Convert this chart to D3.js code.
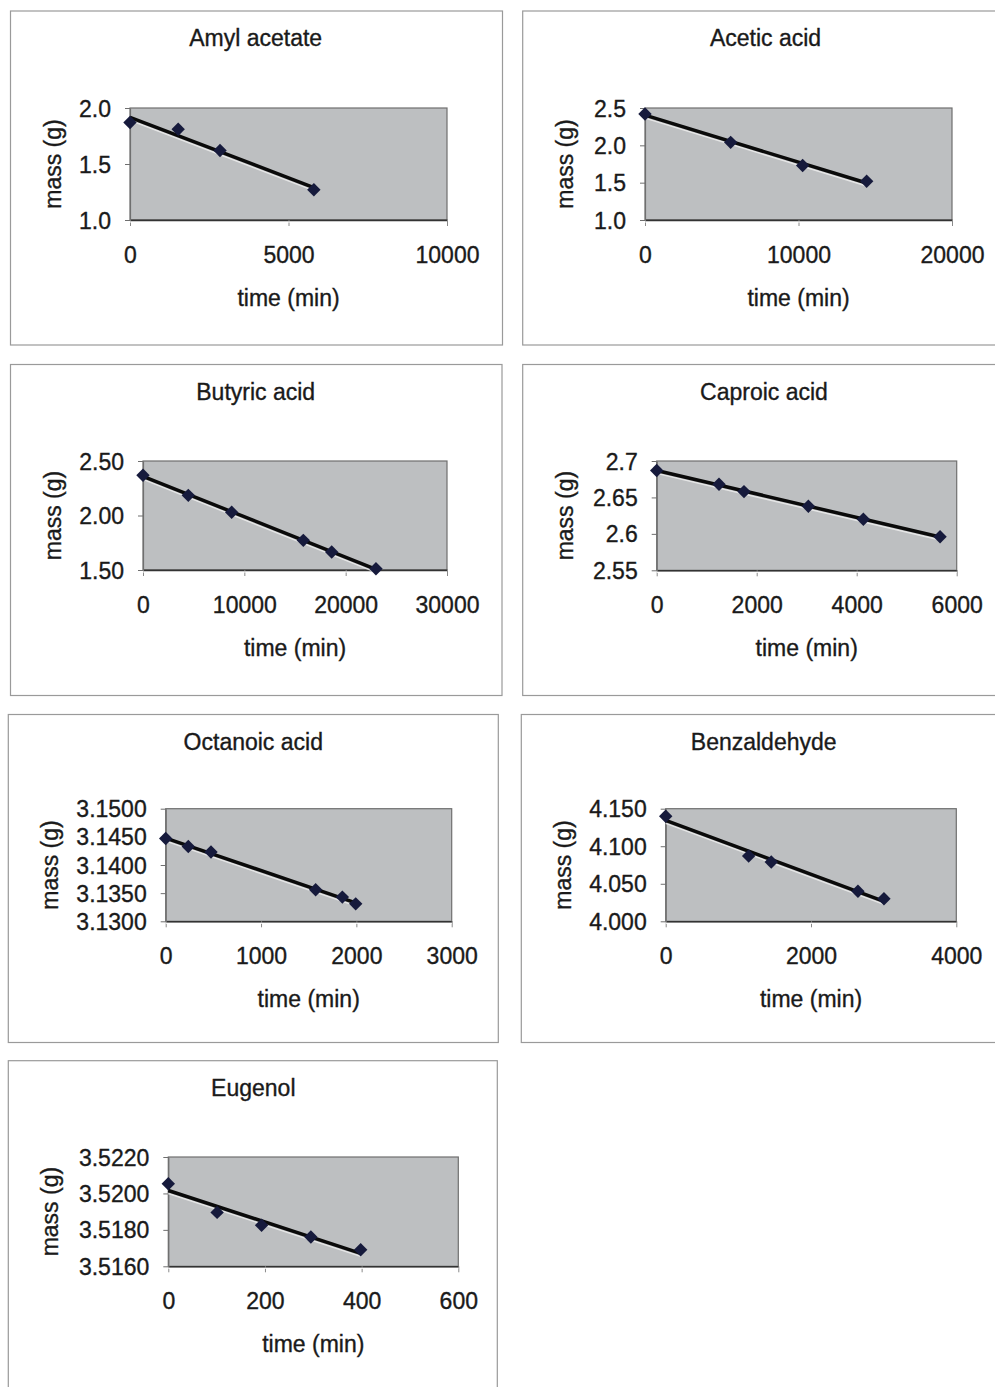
<!DOCTYPE html>
<html>
<head>
<meta charset="utf-8">
<script src="https://cdn.jsdelivr.net/npm/d3@7"></script>
<style>
  html, body { margin: 0; padding: 0; background: #ffffff; }
  svg { display: block; }
  text { font-family: "Liberation Sans", Arial, sans-serif; fill: #1a1a1a; stroke: #1a1a1a; stroke-width: 0.35px; }
</style>
</head>
<body>
<svg id="chart" width="995" height="1387"></svg>
<script>
// ---------------- DATA ----------------
const titles = ["Amyl acetate", "Acetic acid", "Butyric acid", "Caproic acid", "Octanoic acid", "Benzaldehyde", "Eugenol"];
const xAxisTitle = "time (min)";
const yAxisTitle = "mass (g)";

const amylTime = [0, 1520, 2840, 5800];
const amylMass = [1.87, 1.81, 1.62, 1.27];
const amylXTicks = [0, 5000, 10000];
const amylYTicks = [1.0, 1.5, 2.0];
const amylYLabels = ["1.0", "1.5", "2.0"];

const aceticTime = [0, 5580, 10270, 14440];
const aceticMass = [2.42, 2.04, 1.73, 1.52];
const aceticXTicks = [0, 10000, 20000];
const aceticYTicks = [1.0, 1.5, 2.0, 2.5];
const aceticYLabels = ["1.0", "1.5", "2.0", "2.5"];

const butyricTime = [0, 4470, 8750, 15820, 18620, 22990];
const butyricMass = [2.37, 2.185, 2.03, 1.772, 1.665, 1.512];
const butyricXTicks = [0, 10000, 20000, 30000];
const butyricYTicks = [1.5, 2.0, 2.5];
const butyricYLabels = ["1.50", "2.00", "2.50"];

const caproicTime = [0, 1246, 1746, 3033, 4133, 5667];
const caproicMass = [2.687, 2.668, 2.658, 2.638, 2.620, 2.596];
const caproicXTicks = [0, 2000, 4000, 6000];
const caproicYTicks = [2.55, 2.60, 2.65, 2.70];
const caproicYLabels = ["2.55", "2.6", "2.65", "2.7"];

const octanoicTime = [0, 237, 475, 1573, 1853, 1993];
const octanoicMass = [3.1447, 3.1433, 3.1423, 3.1356, 3.1343, 3.1331];
const octanoicXTicks = [0, 1000, 2000, 3000];
const octanoicYTicks = [3.130, 3.135, 3.140, 3.145, 3.150];
const octanoicYLabels = ["3.1300", "3.1350", "3.1400", "3.1450", "3.1500"];

const benzTime = [0, 1142, 1453, 2646, 3004];
const benzMass = [4.140, 4.087, 4.079, 4.040, 4.030];
const benzXTicks = [0, 2000, 4000];
const benzYTicks = [4.000, 4.050, 4.100, 4.150];
const benzYLabels = ["4.000", "4.050", "4.100", "4.150"];

const eugenolTime = [0, 101, 193, 295, 398];
const eugenolMass = [3.52053, 3.51896, 3.51825, 3.51761, 3.51691];
const eugenolXTicks = [0, 200, 400, 600];
const eugenolYTicks = [3.516, 3.518, 3.520, 3.522];
const eugenolYLabels = ["3.5160", "3.5180", "3.5200", "3.5220"];

// ---------------- LAYOUT ----------------
const panels = [
  { title: titles[0], t: amylTime, m: amylMass, xt: amylXTicks, yt: amylYTicks, yl: amylYLabels,
    frame: [10.5, 11, 492, 334], plot: [130, 108, 447, 220], tx: 255.7 },
  { title: titles[1], t: aceticTime, m: aceticMass, xt: aceticXTicks, yt: aceticYTicks, yl: aceticYLabels,
    frame: [522.7, 11, 486, 334], plot: [645, 108, 952, 220], tx: 765.5 },
  { title: titles[2], t: butyricTime, m: butyricMass, xt: butyricXTicks, yt: butyricYTicks, yl: butyricYLabels,
    frame: [10.5, 364.5, 491.5, 331], plot: [143, 461, 447, 570], tx: 255.7 },
  { title: titles[3], t: caproicTime, m: caproicMass, xt: caproicXTicks, yt: caproicYTicks, yl: caproicYLabels,
    frame: [522.7, 364.5, 486, 331], plot: [656.7, 461, 956.7, 570.3], tx: 764 },
  { title: titles[4], t: octanoicTime, m: octanoicMass, xt: octanoicXTicks, yt: octanoicYTicks, yl: octanoicYLabels,
    frame: [8.3, 714.5, 490, 328], plot: [165.7, 808.7, 451.7, 921.3], tx: 253.3 },
  { title: titles[5], t: benzTime, m: benzMass, xt: benzXTicks, yt: benzYTicks, yl: benzYLabels,
    frame: [521.3, 714.5, 486, 328], plot: [665.7, 808.7, 956.3, 921.3], tx: 763.7 },
  { title: titles[6], t: eugenolTime, m: eugenolMass, xt: eugenolXTicks, yt: eugenolYTicks, yl: eugenolYLabels,
    frame: [8.3, 1060.7, 489, 340], plot: [168.3, 1157, 458.3, 1266.3], tx: 253.3 }
];

const svg = d3.select("#chart");
const FS = 23;

function linReg(xs, ys) {
  const n = xs.length;
  const mx = d3.mean(xs), my = d3.mean(ys);
  let sxy = 0, sxx = 0;
  for (let i = 0; i < n; i++) { sxy += (xs[i] - mx) * (ys[i] - my); sxx += (xs[i] - mx) ** 2; }
  const b = sxy / sxx;
  return { b, a: my - b * mx };
}

panels.forEach(p => {
  const [fx, fy, fw, fh] = p.frame;
  const [x0, y0, x1, y1] = p.plot;
  const g = svg.append("g");

  // chart frame
  g.append("rect").attr("x", fx).attr("y", fy).attr("width", fw).attr("height", fh)
    .attr("fill", "#ffffff").attr("stroke", "#9a9a9a").attr("stroke-width", 1.2);

  const x = d3.scaleLinear().domain([p.xt[0], p.xt[p.xt.length - 1]]).range([x0, x1]);
  const y = d3.scaleLinear().domain([p.yt[0], p.yt[p.yt.length - 1]]).range([y1, y0]);

  // plot area
  g.append("rect").attr("x", x0).attr("y", y0).attr("width", x1 - x0).attr("height", y1 - y0)
    .attr("fill", "#bdbfc1").attr("stroke", "#6f6f6f").attr("stroke-width", 1.2);

  // x axis
  const xa = g.append("g").attr("transform", `translate(0,${y1})`)
    .call(d3.axisBottom(x).tickValues(p.xt).tickFormat(d3.format("d")).tickSize(6).tickSizeOuter(0));
  xa.select(".domain").attr("stroke", "#333").attr("stroke-width", 1.8);
  xa.selectAll(".tick line").attr("stroke", "#8a8a8a").attr("stroke-width", 1);
  xa.selectAll(".tick text").attr("y", 43).attr("dy", 0)
    .style("font-size", FS + "px").style("font-family", "Liberation Sans, Arial, sans-serif").attr("fill", "#1a1a1a");
  g.append("line").attr("x1", x0).attr("x2", x1).attr("y1", y1 + 2).attr("y2", y1 + 2)
    .attr("stroke", "#ffffff").attr("stroke-width", 1);

  // y axis
  const ya = g.append("g").attr("transform", `translate(${x0},0)`)
    .call(d3.axisLeft(y).tickValues(p.yt).tickFormat((d, i) => p.yl[i]).tickSize(5).tickSizeOuter(0));
  ya.select(".domain").attr("stroke", "#6f6f6f").attr("stroke-width", 1.2);
  ya.selectAll(".tick line").attr("stroke", "#6f6f6f");
  ya.selectAll(".tick text").attr("x", -19).attr("dy", "0.35em")
    .style("font-size", FS + "px").style("font-family", "Liberation Sans, Arial, sans-serif").attr("fill", "#1a1a1a");

  // titles
  g.append("text").attr("x", p.tx).attr("y", fy + 35).attr("text-anchor", "middle")
    .style("font-size", FS + "px").text(p.title);
  g.append("text").attr("x", (x0 + x1) / 2).attr("y", y1 + 86).attr("text-anchor", "middle")
    .style("font-size", FS + "px").text(xAxisTitle);
  g.append("text").attr("transform", `translate(${fx + 50},${(y0 + y1) / 2}) rotate(-90)`)
    .attr("text-anchor", "middle").style("font-size", FS + "px").text(yAxisTitle);

  // linear trendline
  const r = linReg(p.t, p.m);
  const tMin = d3.min(p.t), tMax = d3.max(p.t);
  const trend = [[tMin, r.a + r.b * tMin], [tMax, r.a + r.b * tMax]];
  const line = d3.line().x(d => x(d[0])).y(d => y(d[1]));
  g.append("path").attr("d", line(trend)).attr("transform", "translate(0,3)")
    .attr("fill", "none").attr("stroke", "#ececec").attr("stroke-width", 1.4).attr("opacity", 0.85);
  g.append("path").attr("d", line(trend)).attr("fill", "none")
    .attr("stroke", "#0a0a0a").attr("stroke-width", 3.5);

  // markers
  const diamond = d3.symbol().type(d3.symbolSquare).size(90);
  g.selectAll("path.pt").data(p.t.map((t, i) => [t, p.m[i]])).enter().append("path")
    .attr("class", "pt")
    .attr("d", diamond)
    .attr("transform", d => `translate(${x(d[0])},${y(d[1])}) rotate(45)`)
    .attr("fill", "#161a3c");
});
</script>
</body>
</html>
